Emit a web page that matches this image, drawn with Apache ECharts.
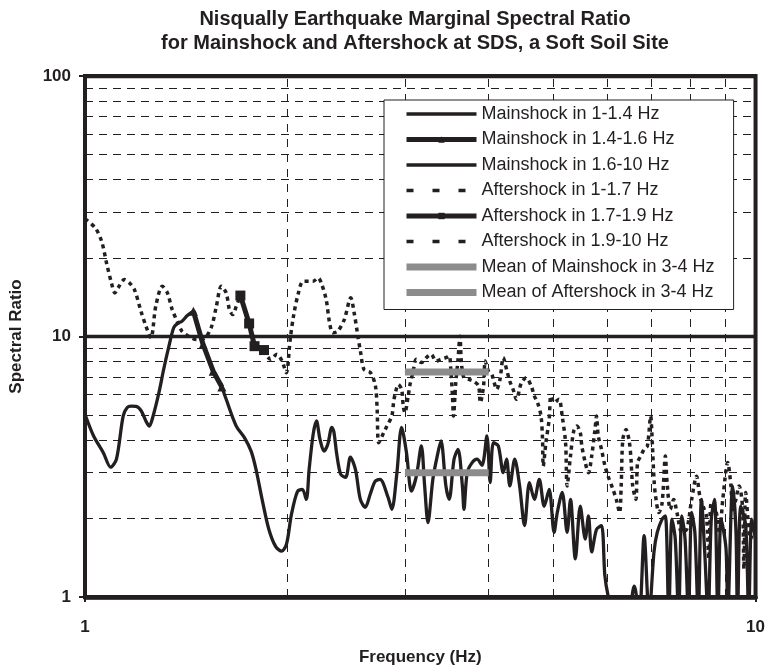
<!DOCTYPE html>
<html>
<head>
<meta charset="utf-8">
<script src="https://cdn.jsdelivr.net/npm/echarts@6/dist/echarts.min.js"></script>
<style>
  html, body { margin: 0; padding: 0; background: #fff; }
  #chart { width: 768px; height: 671px; }
</style>
</head>
<body>
<div id="chart"></div>
<script>
// ---- text ----
const chartTitle = [
  'Nisqually Earthquake Marginal Spectral Ratio',
  'for Mainshock and Aftershock at SDS, a Soft Soil Site'
];
const xAxisName = 'Frequency (Hz)';
const yAxisName = 'Spectral Ratio';
const seriesNames = [
  'Mainshock in 1-1.4 Hz',
  'Mainshock in 1.4-1.6 Hz',
  'Mainshock in 1.6-10 Hz',
  'Aftershock in 1-1.7 Hz',
  'Aftershock in 1.7-1.9 Hz',
  'Aftershock in 1.9-10 Hz',
  'Mean of Mainshock in 3-4 Hz',
  'Mean of Aftershock in 3-4 Hz'
];

// ---- axes ----
const xRange = [1, 10];
const yRange = [1, 100];
const xMinorGrid = [2, 3, 4, 5, 6, 7, 8, 9];
const yMinorGrid = [2, 3, 4, 5, 6, 7, 8, 9, 20, 30, 40, 50, 60, 70, 80, 90];

// ---- data: [frequency (Hz), spectral ratio] ----
const mainshock1to14 = [
  [1.000, 5.03], [1.030, 4.15], [1.065, 3.58],
  [1.092, 3.15], [1.114, 3.38], [1.140, 4.95], [1.156, 5.34], [1.172, 5.40],
  [1.192, 5.39], [1.212, 5.20], [1.233, 4.73], [1.247, 4.53], [1.262, 4.90],
  [1.289, 6.09], [1.310, 7.47], [1.334, 9.18], [1.356, 10.80], [1.373, 11.22],
  [1.395, 11.45], [1.421, 12.03], [1.451, 12.50]
];
const mainshock14to16 = [
  [1.451, 12.50], [1.500, 9.32], [1.553, 7.36], [1.600, 6.40]
];
const mainshock16to10 = [
  [1.600, 6.40], [1.624, 5.74], [1.681, 4.53], [1.728, 4.10], [1.769, 3.63],
  [1.799, 3.09], [1.837, 2.37], [1.880, 1.82], [1.925, 1.56], [1.965, 1.50],
  [1.998, 1.60], [2.032, 2.08], [2.074, 2.54], [2.109, 2.59], [2.138, 2.37],
  [2.159, 3.09], [2.189, 4.21], [2.214, 4.74], [2.241, 4.03], [2.272, 3.63],
  [2.302, 3.86], [2.334, 4.48], [2.350, 4.32], [2.374, 3.53], [2.406, 2.96],
  [2.447, 2.88], [2.488, 3.44], [2.531, 3.09], [2.574, 2.37], [2.618, 2.21],
  [2.663, 2.48], [2.708, 2.78], [2.754, 2.83], [2.830, 2.42], [2.868, 2.17],
  [2.917, 2.96], [2.966, 4.48], [3.016, 3.58], [3.068, 2.55], [3.120, 2.91],
  [3.174, 3.80], [3.210, 2.67], [3.247, 1.93], [3.302, 2.83], [3.350, 3.45],
  [3.395, 3.97], [3.453, 2.67], [3.492, 2.37], [3.551, 3.38], [3.600, 3.69],
  [3.654, 2.67], [3.674, 2.17], [3.715, 3.00], [3.779, 3.28], [3.843, 3.38],
  [3.909, 3.20], [3.975, 4.15], [4.020, 2.75], [4.065, 3.91], [4.134, 3.80],
  [4.205, 3.00], [4.253, 3.38], [4.301, 2.67], [4.374, 3.38], [4.448, 2.67],
  [4.524, 1.88], [4.601, 2.75], [4.679, 2.37], [4.759, 2.83], [4.840, 2.23],
  [4.923, 2.59], [5.007, 1.77], [5.062, 2.11], [5.148, 2.52], [5.236, 1.77],
  [5.297, 2.37], [5.386, 1.40], [5.478, 2.23], [5.572, 1.67], [5.634, 2.05],
  [5.697, 1.49], [5.793, 1.82], [5.892, 1.88], [5.960, 1.21], [6.027, 1.01],
  [6.165, 0.80], [6.300, 0.75], [6.450, 0.80], [6.595, 1.10], [6.708, 0.85],
  [6.821, 1.72], [6.938, 0.85], [7.056, 1.49], [7.135, 1.77], [7.256, 1.99],
  [7.337, 2.05], [7.423, 0.85], [7.505, 1.99], [7.590, 1.67], [7.678, 0.85],
  [7.764, 2.05], [7.850, 1.67], [7.942, 0.85], [8.030, 2.11], [8.119, 1.77],
  [8.213, 0.85], [8.305, 2.37], [8.398, 1.49], [8.496, 0.85], [8.590, 1.99],
  [8.687, 2.37], [8.788, 0.85], [8.885, 1.99], [9.036, 1.53], [9.088, 0.85],
  [9.243, 2.67], [9.347, 1.82], [9.400, 0.85], [9.505, 2.23], [9.668, 1.88],
  [9.767, 0.85], [9.870, 1.99], [10.0, 1.67]
];
const aftershock1to17 = [
  [1.000, 28.3], [1.036, 26.1], [1.059, 23.15], [1.077, 19.1],
  [1.095, 16.06], [1.108, 14.7], [1.120, 15.37], [1.145, 16.54], [1.165, 16.06],
  [1.185, 15.14], [1.212, 12.50], [1.233, 10.95], [1.254, 9.89], [1.275, 13.06],
  [1.304, 15.59], [1.327, 14.7], [1.349, 12.69], [1.372, 11.45], [1.395, 10.48],
  [1.427, 10.03], [1.468, 9.74], [1.510, 9.89], [1.545, 10.95], [1.570, 13.06],
  [1.597, 15.59], [1.624, 14.7], [1.642, 12.69], [1.661, 12.14], [1.681, 13.06],
  [1.705, 14.36]
];
const aftershock17to19 = [
  [1.705, 14.36], [1.757, 11.22], [1.790, 9.18], [1.849, 8.87]
];
const aftershock19to10 = [
  [1.849, 8.87], [1.891, 8.17], [1.933, 8.54], [1.967, 8.05], [1.996, 7.26],
  [2.023, 9.74], [2.046, 11.96], [2.081, 14.7], [2.116, 16.29], [2.189, 16.29],
  [2.226, 16.79], [2.251, 16.06], [2.289, 13.86], [2.316, 11.29], [2.342, 10.33],
  [2.382, 10.48], [2.436, 11.62], [2.491, 14.07], [2.520, 12.32], [2.548, 10.33],
  [2.577, 8.66], [2.607, 7.47], [2.666, 7.26], [2.711, 6.46], [2.727, 5.25],
  [2.742, 3.91], [2.789, 4.27], [2.820, 4.53], [2.868, 4.95], [2.885, 5.57],
  [2.900, 6.00], [2.933, 6.54], [2.966, 6.27], [2.983, 5.41], [2.999, 5.10],
  [3.034, 5.91], [3.050, 6.46], [3.086, 7.36], [3.120, 8.17], [3.174, 7.94],
  [3.228, 8.29], [3.283, 8.54], [3.339, 8.05], [3.395, 8.17], [3.453, 8.29],
  [3.492, 8.42], [3.512, 7.47], [3.532, 5.91], [3.544, 4.95], [3.572, 6.64],
  [3.600, 8.17], [3.624, 10.03], [3.642, 7.94], [3.674, 6.94], [3.735, 6.84],
  [3.799, 6.73], [3.863, 6.46], [3.886, 5.57], [3.930, 6.46], [3.952, 8.05],
  [3.997, 7.36], [4.043, 7.15], [4.112, 6.27], [4.158, 6.84], [4.205, 8.29],
  [4.253, 7.47], [4.301, 6.73], [4.349, 6.27], [4.400, 5.74], [4.474, 6.64],
  [4.550, 6.94], [4.628, 6.46], [4.679, 5.91], [4.731, 5.57], [4.787, 4.95],
  [4.812, 4.03], [4.824, 3.18], [4.868, 3.91], [4.923, 4.81], [4.952, 5.91],
  [5.007, 5.57], [5.091, 5.74], [5.148, 4.95], [5.208, 3.91], [5.236, 2.67],
  [5.297, 3.48], [5.356, 4.33], [5.415, 4.53], [5.478, 4.27], [5.507, 3.80],
  [5.572, 3.28], [5.634, 3.00], [5.697, 3.48], [5.762, 4.40], [5.793, 4.95],
  [5.827, 4.15], [5.892, 3.69], [5.960, 3.20], [6.027, 2.91], [6.129, 2.59],
  [6.198, 2.37], [6.270, 2.11], [6.304, 2.67], [6.340, 4.03], [6.411, 4.40],
  [6.485, 3.91], [6.520, 3.38], [6.558, 2.67], [6.631, 2.37], [6.669, 3.28],
  [6.744, 3.48], [6.822, 3.69], [6.898, 3.80], [6.975, 4.95], [7.015, 3.91],
  [7.056, 2.83], [7.094, 2.44], [7.176, 2.11], [7.256, 2.30], [7.337, 3.48],
  [7.380, 2.75], [7.463, 2.17], [7.549, 2.37], [7.634, 2.11], [7.764, 1.77],
  [7.896, 1.82], [8.030, 2.37], [8.166, 2.91], [8.258, 2.44], [8.353, 2.23],
  [8.447, 2.05], [8.520, 1.40], [8.590, 2.30], [8.737, 2.11], [8.835, 1.77],
  [8.936, 2.37], [9.088, 3.28], [9.190, 2.67], [9.243, 2.11], [9.347, 2.37],
  [9.452, 2.67], [9.561, 2.23], [9.610, 1.28], [9.668, 2.52], [9.832, 1.67],
  [10.0, 1.99]
];
const meanBand = [3, 4];
const mainshockMean = 3.0;
const aftershockMean = 7.3;

// ---- styling ----
const FONT = "'Liberation Sans', Arial, sans-serif";
const INK = '#231f20';
const GRAY = '#8c8c8c';

function solid(name, data, width, extra) {
  return Object.assign({
    name, type: 'line', data, symbol: 'none', smooth: 0.3, clip: true,
    lineStyle: { color: INK, width }, itemStyle: { color: INK }, z: 3
  }, extra || {});
}
function dotted(name, data, extra) {
  return Object.assign({
    name, type: 'line', data, symbol: 'none', smooth: 0.3, clip: true,
    lineStyle: { color: INK, width: 3.5, type: [4, 4] }, itemStyle: { color: INK }, z: 4
  }, extra || {});
}
function meanLine(name, level) {
  return {
    name, type: 'line', symbol: 'none', z: 5,
    data: meanBand.map(f => [f, level]),
    lineStyle: { color: GRAY, width: 7 }, itemStyle: { color: GRAY }
  };
}

// dashed minor grid at 2..9 of every decade
const gridLines = {
  name: 'minor grid', type: 'line', data: [], silent: true, z: 1,
  markLine: {
    silent: true, symbol: ['none', 'none'], label: { show: false },
    animation: false,
    lineStyle: { color: INK, width: 1, type: [8, 6] },
    data: yMinorGrid.map(v => ({ yAxis: v }))
      .concat(xMinorGrid.map(v => ({ xAxis: v, lineStyle: { color: INK, width: 1, type: [8, 7] } })))
  }
};

const plainIcon = { itemStyle: { opacity: 0 } };
const dottedIcon = { itemStyle: { opacity: 0 }, lineStyle: { type: [7, 19] } };

const chart = echarts.init(document.getElementById('chart'), null, { renderer: 'canvas' });
chart.setOption({
  animation: false,
  backgroundColor: '#fff',
  title: {
    text: chartTitle.join('\n'),
    left: 410, top: 2, textAlign: 'center',
    textStyle: { fontFamily: FONT, fontSize: 20, fontWeight: 'bold', color: INK, lineHeight: 24 }
  },
  grid: {
    left: 78, right: 8, top: 76, bottom: 73,
    show: true, borderColor: INK, borderWidth: 4, backgroundColor: 'transparent'
  },
  xAxis: {
    type: 'log', logBase: 10, min: xRange[0], max: xRange[1],
    name: xAxisName, nameLocation: 'middle', nameGap: 52,
    nameTextStyle: { fontFamily: FONT, fontSize: 17, fontWeight: 'bold', color: INK },
    axisLine: { show: true, lineStyle: { color: INK, width: 4.5 } },
    axisTick: { show: true, length: 5, lineStyle: { color: INK, width: 2 } },
    axisLabel: { fontFamily: FONT, fontSize: 17, fontWeight: 'bold', color: INK, margin: 22 },
    splitLine: { show: false }
  },
  yAxis: {
    type: 'log', logBase: 10, min: yRange[0], max: yRange[1],
    name: yAxisName, nameLocation: 'middle', nameGap: 60,
    nameTextStyle: { fontFamily: FONT, fontSize: 17, fontWeight: 'bold', color: INK },
    axisLine: { show: true, lineStyle: { color: INK, width: 4 } },
    axisTick: { show: true, length: 6, lineStyle: { color: INK, width: 2 } },
    axisLabel: { fontFamily: FONT, fontSize: 17, fontWeight: 'bold', color: INK, margin: 14 },
    splitLine: { show: true, lineStyle: { color: INK, width: 3.3 } }
  },
  legend: {
    orient: 'vertical', left: 384, top: 100,
    padding: [5, 19, 8, 19],
    itemWidth: 70, itemHeight: 8, itemGap: 7.5,
    selectedMode: false,
    backgroundColor: '#fff', borderColor: INK, borderWidth: 1,
    lineStyle: { width: 'inherit' },
    textStyle: { fontFamily: FONT, fontSize: 18, color: INK, lineHeight: 18 },
    z: 10,
    data: [
      Object.assign({ name: seriesNames[0] }, plainIcon),
      { name: seriesNames[1] },
      Object.assign({ name: seriesNames[2] }, plainIcon),
      Object.assign({ name: seriesNames[3] }, dottedIcon),
      { name: seriesNames[4] },
      Object.assign({ name: seriesNames[5] }, dottedIcon),
      Object.assign({ name: seriesNames[6] }, plainIcon),
      Object.assign({ name: seriesNames[7] }, plainIcon)
    ]
  },
  series: [
    gridLines,
    solid(seriesNames[0], mainshock1to14, 3.3),
    solid(seriesNames[1], mainshock14to16, 5, { symbol: 'triangle', symbolSize: 9, showSymbol: true, smooth: false }),
    solid(seriesNames[2], mainshock16to10, 3.3),
    dotted(seriesNames[3], aftershock1to17),
    solid(seriesNames[4], aftershock17to19, 5, { symbol: 'rect', symbolSize: 10, showSymbol: true, smooth: false, z: 4 }),
    dotted(seriesNames[5], aftershock19to10),
    meanLine(seriesNames[6], mainshockMean),
    meanLine(seriesNames[7], aftershockMean)
  ]
});
</script>
</body>
</html>
